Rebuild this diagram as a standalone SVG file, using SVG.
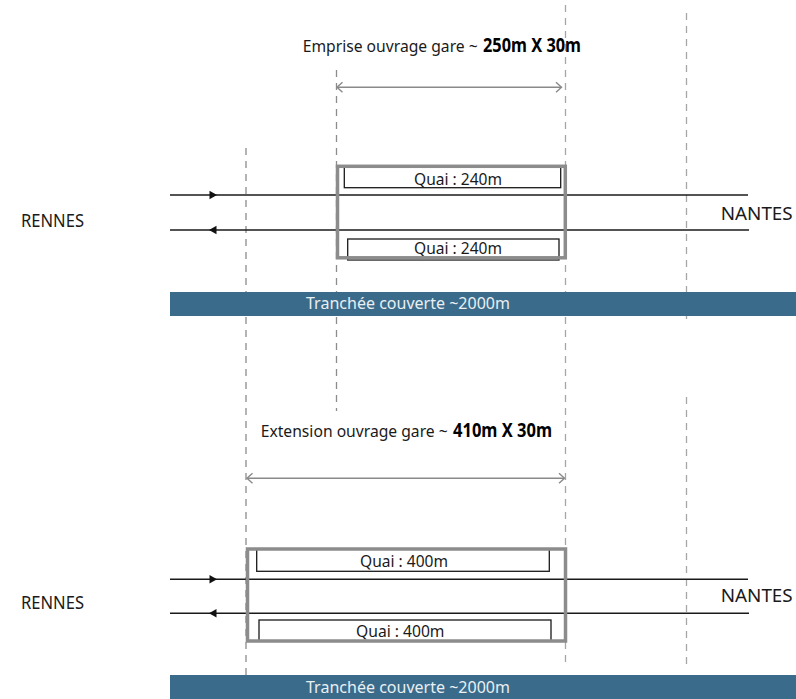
<svg xmlns="http://www.w3.org/2000/svg" width="796" height="699" viewBox="0 0 796 699">
<style>
  .bg { fill: #ffffff; }
  .dash { stroke: #8c8c8c; stroke-width: 1.3; stroke-dasharray: 7 6; fill: none; }
  .dashl { stroke: #a6a6a6; stroke-width: 1.3; stroke-dasharray: 7 6; fill: none; }
  .track { stroke: #1a1a1a; stroke-width: 1.5; fill: none; }
  .tarrow { fill: #111111; }
  .dim { stroke: #8a8a8a; stroke-width: 1.6; fill: none; }
  .box { stroke: #8c8c8c; stroke-width: 3.5; fill: none; }
  .quai { stroke: #1a1a1a; stroke-width: 1.3; fill: #ffffff; }
  .bar { fill: #3a6b8b; }
  .t { font-family: "Noto Sans", "Open Sans", "Liberation Sans", sans-serif; fill: #1a1a1a; }
  .tb { font-family: "Noto Sans", "Liberation Sans", sans-serif; font-weight: bold; fill: #000000; }
  .tw { font-family: "Noto Sans", "Open Sans", "Liberation Sans", sans-serif; fill: #e9eff3; }
</style>
<defs>
  <marker id="chev" markerWidth="10" markerHeight="12" refX="6.5" refY="6" orient="auto-start-reverse" markerUnits="userSpaceOnUse">
    <path d="M1,1 L6.5,6 L1,11" fill="none" stroke="#8a8a8a" stroke-width="1.4"/>
  </marker>
</defs>
<rect class="bg" x="0" y="0" width="796" height="699"/>

<g id="guides">
  <line class="dash" x1="246" y1="148" x2="246" y2="676"/>
  <line class="dash" x1="336.5" y1="70" x2="336.5" y2="411"/>
  <line class="dashl" x1="565.5" y1="5" x2="565.5" y2="668"/>
  <line class="dashl" x1="686.5" y1="13" x2="686.5" y2="321"/>
  <line class="dashl" x1="686.5" y1="397" x2="686.5" y2="668"/>
</g>

<g id="connectors">
  <line class="dim" x1="337" y1="87.3" x2="561.5" y2="87.3" marker-start="url(#chev)" marker-end="url(#chev)"/>
  <line class="dim" x1="247" y1="478.3" x2="564.5" y2="478.3" marker-start="url(#chev)" marker-end="url(#chev)"/>
  <line class="track" x1="170" y1="195" x2="748" y2="195"/>
  <line class="track" x1="170" y1="230" x2="749" y2="230"/>
  <polygon class="tarrow" points="217,195 209.5,190.8 209.5,199.2"/>
  <polygon class="tarrow" points="209,230 216.5,225.8 216.5,234.2"/>
  <line class="track" x1="170" y1="579.3" x2="748" y2="579.3"/>
  <line class="track" x1="170" y1="613.3" x2="749" y2="613.3"/>
  <polygon class="tarrow" points="217,579.3 209.5,575.1 209.5,583.5"/>
  <polygon class="tarrow" points="209,613.3 216.5,609.1 216.5,617.5"/>
</g>

<g id="bar-top">
  <rect class="bar" x="170" y="292" width="626" height="24"/>
  <text class="tw" x="306" y="308.5" font-size="16.5" textLength="204" lengthAdjust="spacingAndGlyphs">Tranchée couverte ~2000m</text>
</g>
<g id="bar-bottom">
  <rect class="bar" x="170" y="675" width="626" height="24"/>
  <text class="tw" x="306" y="692.5" font-size="16.5" textLength="204" lengthAdjust="spacingAndGlyphs">Tranchée couverte ~2000m</text>
</g>

<g id="title-top">
  <text class="t" x="302.7" y="51.7" font-size="16.5" textLength="175" lengthAdjust="spacingAndGlyphs">Emprise ouvrage gare ~</text>
  <text class="tb" x="483" y="51.7" font-size="20" textLength="98" lengthAdjust="spacingAndGlyphs">250m X 30m</text>
</g>
<g id="title-bottom">
  <text class="t" x="260.7" y="436.7" font-size="16.5" textLength="187" lengthAdjust="spacingAndGlyphs">Extension ouvrage gare ~</text>
  <text class="tb" x="453" y="436.7" font-size="20" textLength="99" lengthAdjust="spacingAndGlyphs">410m X 30m</text>
</g>

<g id="station-top">
  <rect class="quai" x="344.3" y="166" width="216.4" height="21.7"/>
  <rect class="quai" x="347.7" y="239" width="211.3" height="21"/>
  <text class="t" x="414" y="185" font-size="16.5" textLength="88" lengthAdjust="spacingAndGlyphs">Quai : 240m</text>
  <text class="t" x="414" y="253.5" font-size="16.5" textLength="88" lengthAdjust="spacingAndGlyphs">Quai : 240m</text>
  <rect class="box" x="337.5" y="166.3" width="227.8" height="91.5"/>
</g>
<g id="station-bottom">
  <rect class="quai" x="256.7" y="549" width="292.6" height="22.3"/>
  <rect class="quai" x="259" y="620" width="292" height="21"/>
  <text class="t" x="360" y="567" font-size="16.5" textLength="88" lengthAdjust="spacingAndGlyphs">Quai : 400m</text>
  <text class="t" x="356" y="637" font-size="16.5" textLength="88.5" lengthAdjust="spacingAndGlyphs">Quai : 400m</text>
  <rect class="box" x="247.5" y="549" width="318" height="92"/>
</g>

<g id="rennes-top"><text class="t" x="21" y="227.3" font-size="18.5" textLength="63" lengthAdjust="spacingAndGlyphs">RENNES</text></g>
<g id="nantes-top"><text class="t" x="720.7" y="220" font-size="18.5" textLength="72" lengthAdjust="spacingAndGlyphs">NANTES</text></g>
<g id="rennes-bottom"><text class="t" x="21" y="609.3" font-size="18.5" textLength="63" lengthAdjust="spacingAndGlyphs">RENNES</text></g>
<g id="nantes-bottom"><text class="t" x="720.7" y="602.3" font-size="18.5" textLength="72" lengthAdjust="spacingAndGlyphs">NANTES</text></g>
</svg>
